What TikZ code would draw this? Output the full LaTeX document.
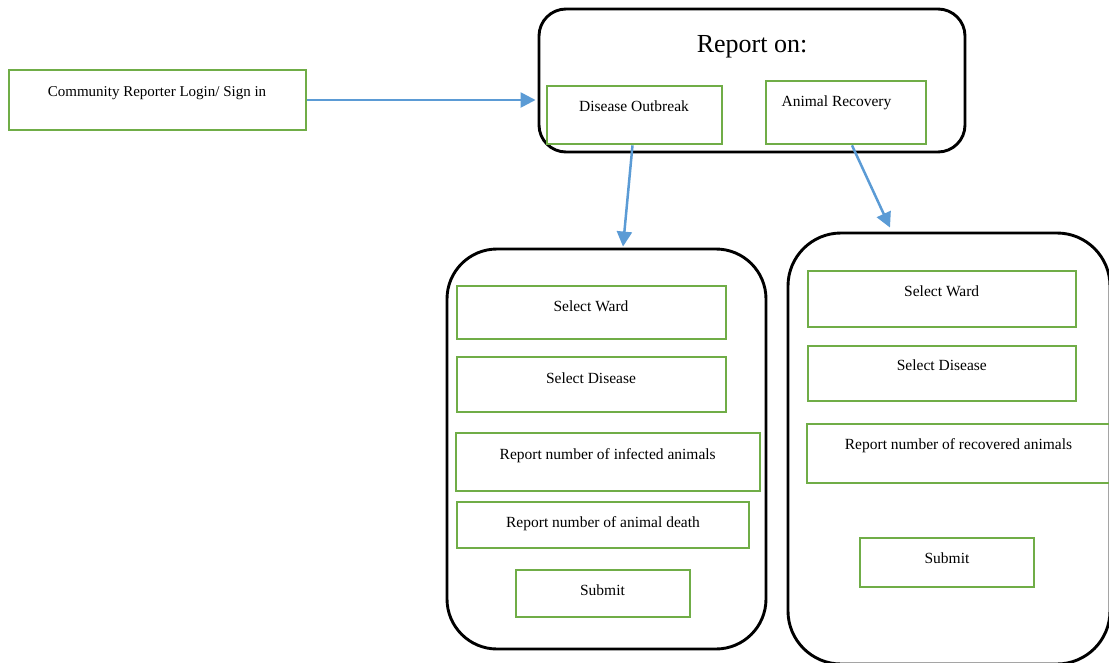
\documentclass[tikz,border=0pt]{standalone}
\usepackage{fontspec}
\setmainfont{Liberation Serif}
\usetikzlibrary{arrows.meta,calc}

\definecolor{boxgreen}{RGB}{112,173,71}
\definecolor{flowblue}{RGB}{91,155,213}

\tikzset{
  gbox/.style={draw=boxgreen, line width=2.7pt, rectangle, inner sep=0pt},
  panel/.style={draw=black, line width=2.9pt, rectangle, inner sep=0pt},
  lbl/.style={anchor=base, inner sep=0pt, font=\fontsize{15.5}{18}\selectfont},
  flow/.style={draw=flowblue, line width=2.5pt, -{Triangle[length=15pt,width=15pt]}},
}

\begin{document}
\begin{tikzpicture}[x=1pt,y=-1pt]
\useasboundingbox (0,0) rectangle (1109,662);
\clip (0,0) rectangle (1109,662);

% login
\node[gbox, minimum width=297pt, minimum height=60pt] (login) at (157.5,100) {};
\node[lbl, font=\fontsize{15}{18}\selectfont] (logintxt) at (157,96) {Community Reporter Login/ Sign in};

% report selection panel
\node[panel, rounded corners=27pt, minimum width=426pt, minimum height=143pt] (report) at (752,80.5) {};
\node[lbl, font=\fontsize{26}{30}\selectfont] (reporttxt) at (752,52) {Report on:};
\node[gbox, minimum width=175pt, minimum height=58pt] (outbreak) at (634.5,115) {};
\node[lbl] (outbreaktxt) at (634,111) {Disease Outbreak};
\node[gbox, minimum width=160pt, minimum height=63pt] (recovery) at (846,112.5) {};
\node[lbl] (recoverytxt) at (836.5,106) {Animal Recovery};

% outbreak form
\node[panel, rounded corners=50pt, minimum width=319pt, minimum height=400pt] (formA) at (606.5,449) {};
\node[gbox, minimum width=269pt, minimum height=53pt] (wardA) at (591.5,312.5) {};
\node[lbl] (wardAtxt) at (591,311) {Select Ward};
\node[gbox, minimum width=269pt, minimum height=55pt] (diseaseA) at (591.5,384.5) {};
\node[lbl] (diseaseAtxt) at (591,383) {Select Disease};
\node[gbox, minimum width=304pt, minimum height=58pt] (infected) at (608,462) {};
\node[lbl] (infectedtxt) at (607.7,459) {Report number of infected animals};
\node[gbox, minimum width=292pt, minimum height=46pt] (death) at (603,525) {};
\node[lbl] (deathtxt) at (603,527) {Report number of animal death};
\node[gbox, minimum width=174pt, minimum height=47pt] (submitA) at (603,593.5) {};
\node[lbl] (submitAtxt) at (602.5,595) {Submit};

% recovery form
\node[panel, rounded corners=53pt, minimum width=322pt, minimum height=431pt] (formB) at (949,448.5) {};
\node[gbox, minimum width=268pt, minimum height=56pt] (wardB) at (942,299) {};
\node[lbl] (wardBtxt) at (941.7,296) {Select Ward};
\node[gbox, minimum width=268pt, minimum height=55pt] (diseaseB) at (942,373.5) {};
\node[lbl] (diseaseBtxt) at (941.8,370) {Select Disease};
\node[gbox, minimum width=305pt, minimum height=59pt] (recovered) at (959.5,453.5) {};
\node[lbl] (recoveredtxt) at (958.5,449) {Report number of recovered animals};
\node[gbox, minimum width=174pt, minimum height=49pt] (submitB) at (947,562.5) {};
\node[lbl] (submitBtxt) at (947,563) {Submit};

% connectors
\draw[flow] (login.east) -- ([xshift=-2pt]login.east -| report.west);
\draw[flow] ([xshift=-2pt]outbreak.south) -- ([xshift=16.5pt,yshift=1pt]formA.north);
\draw[flow] ([xshift=6pt]recovery.south) -- ([xshift=-59pt,yshift=4pt]formB.north);
\end{tikzpicture}
\end{document}
